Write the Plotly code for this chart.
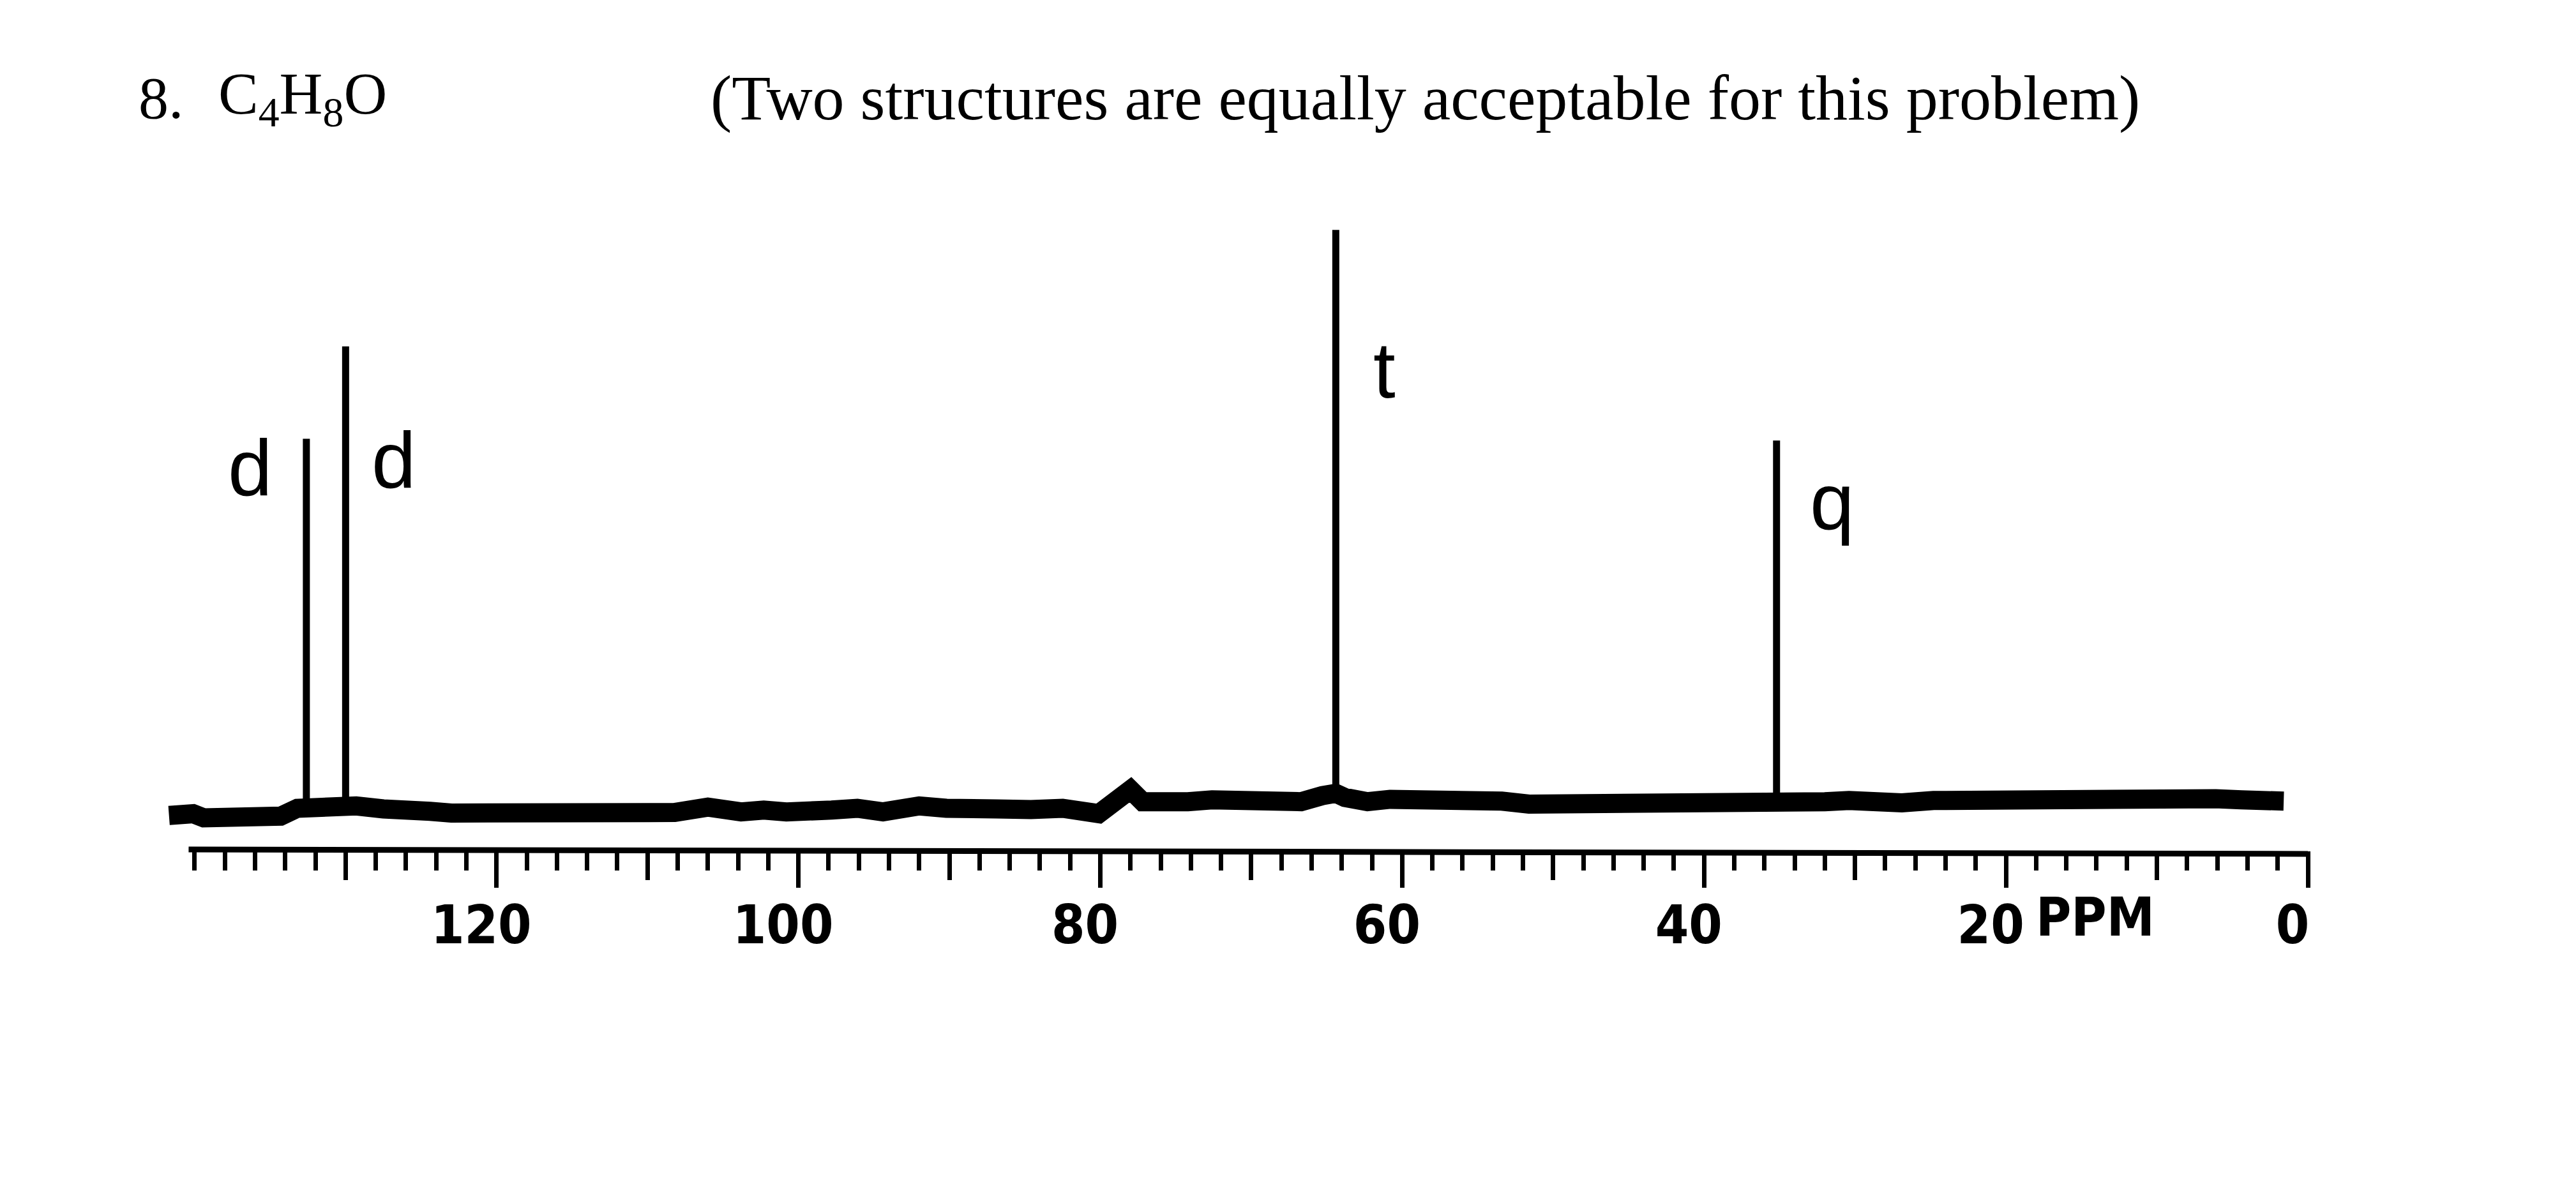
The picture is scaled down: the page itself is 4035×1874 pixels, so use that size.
import plotly.graph_objects as go

# ---------------- data ----------------
# baseline trace (chemical shift in ppm, relative intensity)
base_ppm = [141.7, 140.1, 139.4, 138.0, 136.4, 135.2, 134.3, 133.2, 132.6, 131.6, 130.0, 129.3,
            127.5, 125.7, 124.4, 123.0, 121.0, 118.9, 117.1, 115.6, 114.2, 112.0, 110.9, 108.2,
            106.0, 103.8, 102.3, 100.8, 97.8, 96.1, 94.4, 92.0, 90.2, 88.4, 86.9, 84.6,
            82.5, 80.1, 78.9, 78.0, 77.2, 76.0, 74.2, 72.6, 71.2, 70.0, 68.4, 66.7,
            65.3, 64.4, 63.8, 62.3, 60.8, 59.3, 56.4, 53.4, 51.6, 50.0, 47.6, 45.4,
            43.2, 41.2, 39.5, 37.7, 35.6, 35.2, 33.9, 32.0, 30.4, 28.6, 26.9, 24.8, 22.6,
            20.6, 18.8, 16.9, 14.9, 13.2, 11.4, 9.6, 7.9, 6.1, 4.4, 1.9, 1.6]
base_int = [1.3, 1.6, 0.9, 1.1, 0.9, 1.0, 1.2, 2.5, 2.6, 2.7, 2.8, 2.9,
            2.4, 1.7, 2.0, 1.7, 1.7, 2.0, 1.6, 1.9, 1.5, 1.9, 2.2, 1.8,
            2.7, 1.9, 2.2, 1.9, 2.2, 2.5, 1.9, 2.9, 2.5, 2.8, 2.4, 2.3,
            2.5, 1.6, 4.5, 5.6, 3.6, 3.4, 3.6, 3.9, 3.7, 3.9, 3.5, 3.6,
            4.6, 5.0, 4.3, 3.6, 4.0, 4.1, 3.7, 3.7, 3.2, 3.2, 2.9, 3.1,
            3.3, 3.1, 2.9, 3.1, 3.4, 3.4, 3.4, 3.6, 3.8, 3.5, 3.4, 3.8, 3.9,
            3.7, 4.0, 4.2, 4.0, 3.8, 4.0, 4.1, 3.9, 4.1, 3.9, 3.7, 3.7]

# resonance lines
peak_ppm = [132.6, 130.0, 64.4, 35.2]
peak_base = [2.6, 2.8, 5.0, 3.4]
peak_top = [64.1, 79.5, 98.9, 63.8]

# handwritten multiplicity labels
label_text = ["d", "d", "t", "q"]
label_ppm = [136.3, 126.8, 61.2, 31.5]
label_int = [59.3, 60.6, 75.6, 53.7]

# axis ticks
major_ticks = [120, 100, 80, 60, 40, 20, 0]
major_text = ["120", "100", "80", "60", "40", "20", "0"]
mid_ticks = [130, 110, 90, 70, 50, 30, 10]

title_left = "8."
formula = "C<sub>4</sub>H<sub>8</sub>O"
title_right = "(Two structures are equally acceptable for this problem)"

# ---------------- figure ----------------
seg_x, seg_y = [], []
for p, b, t in zip(peak_ppm, peak_base, peak_top):
    seg_x += [p, p, None]
    seg_y += [b, t, None]

fig = go.Figure()
fig.add_trace(go.Scatter(x=base_ppm, y=base_int, mode="lines",
                         line=dict(color="black", width=30),
                         showlegend=False, hoverinfo="skip"))
fig.add_trace(go.Scatter(x=seg_x, y=seg_y, mode="lines",
                         line=dict(color="black", width=11),
                         showlegend=False, hoverinfo="skip"))
# dummy trace to carry the labelled overlay axis
fig.add_trace(go.Scatter(x=[0, 141.9], y=[None, None], xaxis="x2", mode="lines",
                         showlegend=False, hoverinfo="skip"))

XR = [141.9, 0]
tickfont = dict(family="Liberation Sans Narrow, DejaVu Sans Condensed, Arial Narrow, sans-serif",
                size=84, color="black", weight="bold")

fig.update_layout(
    width=4035, height=1874,
    margin=dict(l=260, r=420, t=256, b=541, pad=0),
    paper_bgcolor="white", plot_bgcolor="white",
    showlegend=False,
    xaxis=dict(range=XR, showgrid=False, zeroline=False, showline=False,
               tickmode="array", tickvals=mid_ticks + major_ticks,
               showticklabels=False,
               ticks="outside", ticklen=45, tickwidth=7, tickcolor="black",
               minor=dict(ticks="outside", dtick=2, tick0=0, ticklen=30,
                          tickwidth=7, tickcolor="black", showgrid=False)),
    xaxis2=dict(range=XR, overlaying="x", anchor="y", side="bottom",
                showgrid=False, zeroline=False, showline=False,
                tickmode="array", tickvals=major_ticks, ticktext=major_text,
                ticks="outside", ticklen=57, tickwidth=7, tickcolor="black",
                tickfont=tickfont, ticklabelshift=24, ticklabelstandoff=-14),
    yaxis=dict(range=[-4.574, 110.0], visible=False, showgrid=False, zeroline=False),
)

# axis rule (slightly tilted in the scan)
fig.add_shape(type="line", xref="x", yref="paper", x0=140.4, x1=0,
              y0=0.0019, y1=-0.0046, line=dict(color="black", width=9))

ann_font = dict(family="Liberation Serif, Times New Roman, serif", size=94, color="black")
fig.add_annotation(text=title_left, xref="paper", yref="paper", x=-0.0134, y=1.0955,
                   xanchor="left", yanchor="middle", showarrow=False, font=ann_font)
fig.add_annotation(text=formula, xref="paper", yref="paper", x=0.0238, y=1.0955,
                   xanchor="left", yanchor="middle", showarrow=False, font=ann_font)
fig.add_annotation(text=title_right, xref="paper", yref="paper", x=0.2538, y=1.0955,
                   xanchor="left", yanchor="middle", showarrow=False,
                   font=dict(family="Liberation Serif, Times New Roman, serif", size=100,
                             color="black"))

for t, px, py in zip(label_text, label_ppm, label_int):
    fig.add_annotation(text=t, x=px, y=py, xref="x", yref="y", showarrow=False,
                       xanchor="center", yanchor="middle",
                       font=dict(family="Liberation Sans, DejaVu Sans, sans-serif",
                                 size=125, color="black"))

fig.add_annotation(text="PPM", x=14.07, y=-0.0966, xref="x", yref="paper", showarrow=False,
                   xanchor="center", yanchor="middle", font=tickfont)

fig.write_html("out.html", config={"displayModeBar": False},
               post_script="document.body.style.margin='0';")
